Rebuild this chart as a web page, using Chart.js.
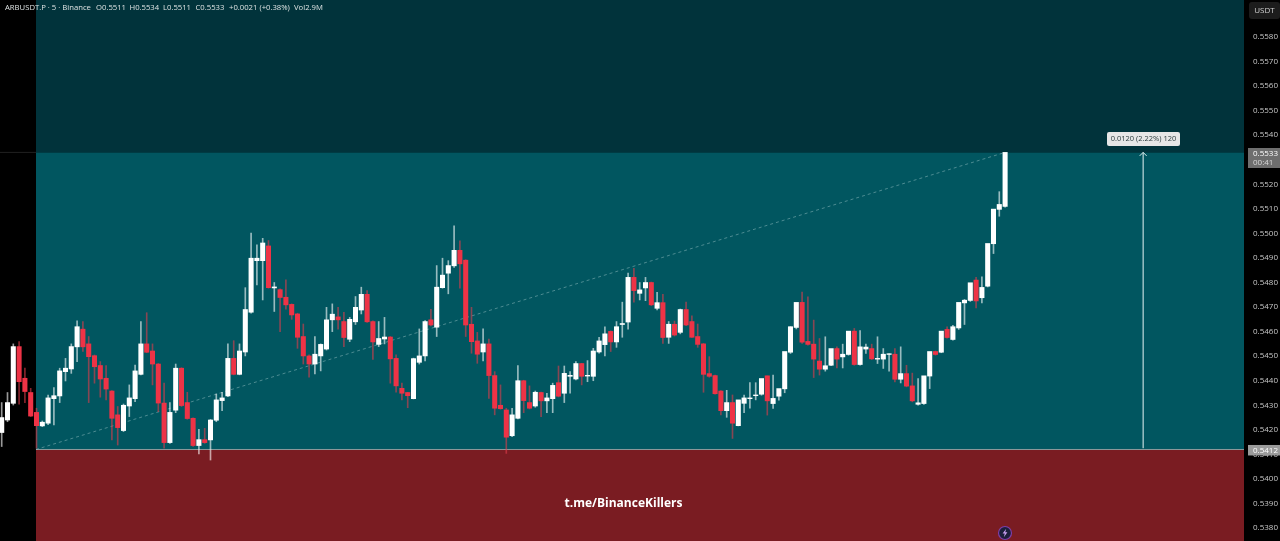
<!DOCTYPE html>
<html><head><meta charset="utf-8">
<style>html,body{margin:0;padding:0;background:#000;overflow:hidden}canvas{display:block}</style>
<script src="https://cdn.jsdelivr.net/npm/chart.js@4"></script>
</head><body><canvas id="c" width="1280" height="541"></canvas>
<script>
const opens=[.54189,.5424,.54308,.54539,.5441,.54352,.54271,.54216,.54227,.54327,.54338,.54437,.54448,.54538,.5461,.5455,.54502,.54462,.5441,.54358,.54261,.54197,.54297,.54327,.54426,.5455,.54521,.54468,.54309,.54148,.5428,.54451,.54311,.54247,.54136,.5416,.54159,.54239,.54319,.54338,.54491,.54426,.54517,.54679,.54889,.54889,.54949,.54778,.54771,.5474,.54711,.54672,.5458,.54501,.54468,.54501,.54529,.54648,.5466,.54641,.54569,.5464,.54688,.54752,.54641,.54548,.5457,.54578,.54491,.54369,.54352,.54327,.54475,.54501,.54648,.54618,.54779,.54838,.54868,.54931,.54891,.5463,.54562,.54517,.5455,.54421,.543,.54281,.54176,.54247,.544,.54311,.54297,.54352,.54318,.54327,.54392,.54349,.54418,.54407,.5447,.54419,.54418,.54517,.54547,.54601,.54558,.54629,.54639,.54821,.54756,.54778,.548,.54695,.54718,.54577,.5463,.54597,.5469,.54641,.5458,.5455,.54429,.54421,.54358,.54278,.54311,.54217,.54308,.54327,.54339,.54345,.5442,.54307,.54337,.54367,.54516,.54617,.54719,.5456,.54549,.5448,.54447,.54463,.54531,.54497,.54507,.54602,.54466,.54529,.54531,.54488,.54488,.54507,.54508,.54406,.54429,.54379,.54304,.54307,.54419,.54519,.54516,.54609,.54568,.54615,.54717,.54727,.5481,.54738,.54785,.54958,.55098,.5511];
const highs=[.54311,.54352,.5455,.54559,.54451,.54369,.54288,.54236,.54342,.54372,.54451,.54491,.5455,.54644,.54641,.5458,.54505,.54478,.54462,.5436,.54295,.54305,.54383,.54464,.54641,.54677,.5455,.5447,.5439,.54311,.54468,.54453,.54353,.54249,.54202,.54206,.54242,.54346,.54353,.5455,.54563,.5455,.54779,.55001,.54953,.5498,.54971,.548,.54774,.54811,.54713,.54675,.54631,.54505,.5458,.5455,.54699,.54713,.54699,.54679,.54658,.54743,.54781,.54767,.54644,.54641,.54658,.5458,.54505,.5439,.54353,.54492,.54611,.54645,.54691,.54869,.54899,.54889,.55031,.5497,.54893,.54699,.54597,.54611,.5457,.54437,.54383,.54288,.54288,.54462,.54402,.54379,.54358,.54354,.54349,.5439,.5446,.5446,.54437,.54478,.54471,.54482,.54532,.54577,.5462,.54603,.54641,.5472,.54838,.54858,.548,.54821,.54802,.5476,.54752,.54641,.54643,.54692,.5472,.54664,.54631,.54552,.54498,.54423,.5436,.54361,.54342,.54313,.54342,.54392,.54392,.54392,.54419,.54423,.54361,.54382,.5462,.54671,.54761,.54742,.54647,.54572,.54579,.54522,.54538,.54549,.54531,.54613,.54604,.54549,.54549,.54579,.54531,.5451,.54531,.54538,.54463,.54431,.54409,.54351,.54443,.54521,.54568,.5462,.54626,.5466,.54731,.54731,.54821,.54823,.5481,.54979,.5517,.5517,.5534];
const lows=[.54132,.54233,.54301,.54305,.54311,.54254,.54125,.54213,.54221,.5422,.54311,.54399,.5443,.54478,.54519,.54311,.5439,.54333,.54322,.54159,.54138,.54193,.54254,.54315,.54424,.54514,.54383,.54274,.54125,.54145,.5427,.54295,.54243,.54132,.54102,.54145,.54077,.54233,.54278,.54335,.54424,.54424,.54501,.54675,.5479,.54729,.54777,.54682,.546,.54691,.5465,.54532,.54468,.54414,.54428,.5444,.54525,.546,.5461,.54539,.54559,.54629,.54672,.54637,.54487,.54539,.5455,.5439,.54353,.54322,.5429,.54326,.54468,.54481,.54623,.5458,.54777,.54754,.54861,.54777,.5458,.54512,.54471,.54481,.54328,.54261,.54284,.54104,.54172,.54244,.5427,.54285,.54292,.54254,.5427,.5427,.54334,.54311,.54349,.54403,.54383,.54396,.544,.54512,.54501,.54519,.54536,.54577,.5461,.5472,.54729,.54726,.54706,.54688,.54552,.54552,.54582,.54591,.54624,.54576,.54536,.54353,.54414,.54345,.54261,.54251,.54165,.54216,.5427,.54288,.54322,.54341,.5426,.54287,.54321,.54351,.54511,.54611,.54552,.54545,.54413,.54423,.54439,.54461,.54452,.54452,.54504,.54463,.54463,.54511,.54486,.5447,.5445,.54439,.54395,.54391,.54375,.54314,.543,.54304,.54368,.54504,.54514,.54573,.54565,.54609,.54629,.54723,.54697,.54717,.54782,.54918,.5507,.55107];
const closes=[.5425,.54311,.54539,.54396,.54356,.54256,.54217,.54231,.5433,.54339,.5444,.54451,.54539,.5462,.54538,.54498,.54457,.54407,.54366,.54247,.54209,.543,.5433,.5444,.5455,.54516,.54468,.54309,.54148,.54271,.54451,.54299,.54246,.54136,.5416,.54148,.5424,.54322,.5433,.54491,.54426,.54521,.5469,.54899,.54899,.54961,.54779,.54782,.54739,.54709,.54668,.54577,.54501,.54468,.54508,.54548,.54648,.54671,.54648,.54576,.5465,.54699,.54752,.5464,.54558,.54572,.54578,.54489,.54379,.54349,.54339,.5449,.54501,.54641,.54627,.54781,.5483,.54869,.54931,.54876,.54627,.54559,.54508,.5455,.54421,.54288,.54286,.5417,.54261,.544,.54319,.54288,.54353,.54318,.5433,.54381,.54337,.5443,.54422,.5447,.54418,.54422,.54521,.54562,.54591,.54558,.5462,.54633,.54821,.54767,.5477,.548,.54709,.54718,.54576,.5463,.54586,.5469,.54627,.54577,.54548,.54426,.54418,.54347,.54278,.54311,.54227,.54322,.5433,.5433,.54342,.54409,.54318,.54328,.54368,.54519,.5462,.54719,.54557,.54548,.54488,.54447,.54461,.54531,.54488,.54508,.54602,.54466,.54538,.54537,.54489,.54491,.54508,.5451,.54406,.54429,.54378,.54318,.5431,.5442,.54519,.54507,.54602,.54576,.5462,.54719,.54728,.54799,.54725,.5478,.54959,.55099,.55118,.5533];
const tickValues=[.558,.557,.556,.555,.554,.553,.552,.551,.55,.549,.548,.547,.546,.545,.544,.543,.542,.541,.54,.539,.538];
const bandLevels=[.5533,.5412];
const lastPrice=.5533, basePrice=.5412;
const trendX=[5.9,173];
const trendY=[.5412,.5533];
const arrowX=[196.8,196.8];
const arrowY=[.54125,.5533];
const header=[["ARBUSDT.P · 5 · Binance",5],["O0.5511",96],["H0.5534",129.5],["L0.5511",163],["C0.5533",195.5],["+0.0021 (+0.38%)",229],["Vol2.9M",294]];
const FONT='"Open Sans"';
const indexes=opens.map((_,i)=>i);
const up=indexes.map(i=>closes[i]>=opens[i]);

const paint={id:'paint',
 beforeDraw(ch){
  const {ctx,scales:{x,y},width,height,chartArea:a}=ch;
  const y1=y.getPixelForValue(bandLevels[0]), y2=y.getPixelForValue(bandLevels[1]);
  ctx.save();
  ctx.fillStyle='#000';ctx.fillRect(0,0,width,height);
  ctx.fillStyle='#01333b';ctx.fillRect(36,0,a.right-36,y1);
  ctx.fillStyle='#015660';ctx.fillRect(36,y1,a.right-36,y2-y1);
  ctx.fillStyle='#7a1c22';ctx.fillRect(36,y2,a.right-36,height-y2);
  ctx.fillStyle='rgba(255,255,255,.13)';ctx.fillRect(0,y1-.5,36,1);
  ctx.fillStyle='#8d9c9d';ctx.fillRect(36,y2-.5,a.right-36,1);
  ctx.restore();
 },
 afterDraw(ch){
  const {ctx,scales:{x,y}}=ch;
  ctx.save();
  ctx.textBaseline='middle';ctx.textAlign='left';
  ctx.font='7.7px '+FONT;ctx.fillStyle='#dde2e2';
  header.forEach(([t,px])=>ctx.fillText(t,px,8));
  // arrow head
  const ax=x.getPixelForValue(arrowX[0]), ay=y.getPixelForValue(arrowY[1]);
  ctx.strokeStyle='#dfeeee';ctx.lineWidth=1;ctx.beginPath();
  ctx.moveTo(ax-3.5,ay+3.5);ctx.lineTo(ax,ay);ctx.lineTo(ax+3.5,ay+3.5);ctx.stroke();
  // measure label
  ctx.fillStyle='#e6e6e6';ctx.beginPath();ctx.roundRect(1107,132,73,14,2);ctx.fill();
  ctx.fillStyle='#2a3a3c';ctx.textAlign='center';ctx.font='7.5px '+FONT;
  ctx.fillText('0.0120 (2.22%) 120',1143.5,139);
  // watermark
  ctx.fillStyle='#fff';ctx.font='bold 12px '+FONT;
  ctx.fillText('t.me/BinanceKillers',623.5,504);
  // USDT button
  ctx.fillStyle='#1c1c1c';ctx.beginPath();ctx.roundRect(1249,2,31,17,3);ctx.fill();
  ctx.fillStyle='#d0d0d0';ctx.font='8px '+FONT;ctx.fillText('USDT',1264.5,11);
  // price badges
  ctx.textAlign='left';
  ctx.fillStyle='#6e6e6e';ctx.fillRect(1248,148,32,20);
  ctx.fillStyle='#fff';ctx.fillText(lastPrice.toFixed(4),1253,153.5);
  ctx.fillStyle='#d8d8d8';ctx.fillText('00:41',1253,162.5);
  const by=y.getPixelForValue(basePrice);
  ctx.fillStyle='#9b9b9b';ctx.fillRect(1248,by-4.5,32,10.5);
  ctx.fillStyle='#fff';ctx.fillText(basePrice.toFixed(4),1253,by+1);
  // bolt icon
  ctx.fillStyle='#1c1f3a';ctx.strokeStyle='#7d3fa8';ctx.lineWidth=1.2;
  ctx.beginPath();ctx.arc(1005,533,6.5,0,Math.PI*2);ctx.fill();ctx.stroke();
  ctx.fillStyle='#c9a0f0';ctx.beginPath();
  ctx.moveTo(1006.2,528.8);ctx.lineTo(1002.6,533.6);ctx.lineTo(1004.8,533.6);ctx.lineTo(1003.8,537.2);ctx.lineTo(1007.4,532.2);ctx.lineTo(1005.2,532.2);ctx.closePath();ctx.fill();
  ctx.restore();
 }};

new Chart(document.getElementById('c'),{
 type:'bar',
 data:{datasets:[
  {label:'Bodies',order:1,grouped:false,barThickness:4.4,borderWidth:0,
   data:indexes.map(i=>({x:i,y:[Math.min(opens[i],closes[i]),Math.max(opens[i],closes[i])]})),
   backgroundColor:indexes.map(i=>up[i]?'#ffffff':'#ee3346')},
  {label:'Wicks',order:2,grouped:false,barThickness:1,borderWidth:0,
   data:indexes.map(i=>({x:i,y:[lows[i],highs[i]]})),
   backgroundColor:indexes.map(i=>up[i]?'rgba(255,255,255,.6)':'rgba(225,60,75,.6)')},
  {type:'line',label:'Trend',order:3,data:trendX.map((v,i)=>({x:v,y:trendY[i]})),
   borderColor:'rgba(200,225,225,.38)',borderWidth:1,borderDash:[3,3],pointRadius:0},
  {type:'line',label:'Range',order:4,data:arrowX.map((v,i)=>({x:v,y:arrowY[i]})),
   borderColor:'#e8f4f4',borderWidth:1,pointRadius:0}
 ]},
 options:{responsive:false,animation:false,devicePixelRatio:1,
  layout:{padding:0},
  plugins:{legend:{display:false},tooltip:{enabled:false},title:{display:false}},
  events:[],
  scales:{
   x:{type:'linear',display:false,min:-0.293,max:214.19,offset:false,grid:{display:false}},
   y:{type:'linear',position:'right',min:.537472,max:.559507,
      grid:{display:false,drawTicks:false,tickLength:0},border:{display:false},
      afterBuildTicks(s){s.ticks=tickValues.map(v=>({value:v}));},
      afterFit(s){s.width=36;s.paddingTop=0;s.paddingBottom=0;},
      ticks:{color:'#c8c8c8',padding:9,autoSkip:false,font:{family:'Open Sans',size:8},
        callback:v=>v.toFixed(4)}}
  }},
 plugins:[paint]
});
</script></body></html>
